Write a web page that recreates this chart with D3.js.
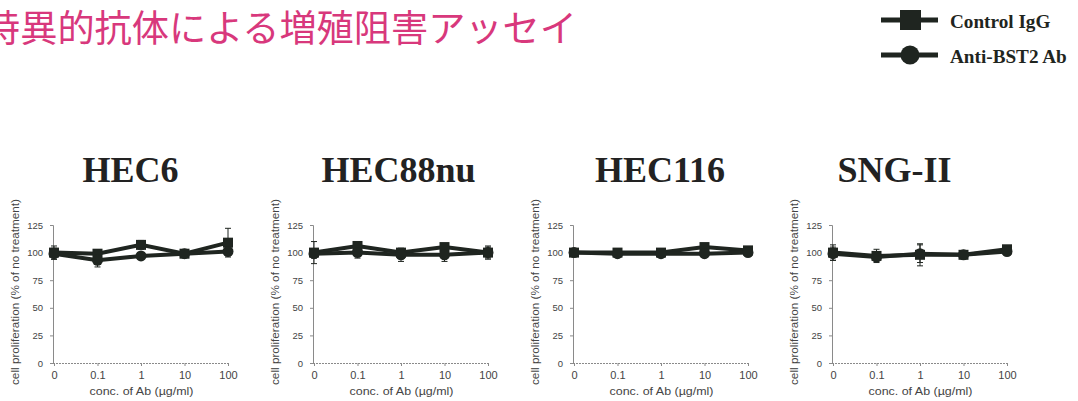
<!DOCTYPE html>
<html>
<head>
<meta charset="utf-8">
<script src="https://cdn.jsdelivr.net/npm/d3@7"></script>
<style>
  html, body { margin: 0; padding: 0; background: #fff; }
  svg { display: block; }
</style>
</head>
<body>
<svg id="chart" width="1078" height="401"></svg>
<script>
// Concentrations of antibody (µg/ml) on the x axis
const categories = ["0", "0.1", "1", "10", "100"];
// Cell lines, one panel each
const cellLines = ["HEC6", "HEC88nu", "HEC116", "SNG-II"];
// Y axis ticks (% of no treatment)
const yTicks = [0, 25, 50, 75, 100, 125];

// Control IgG: mean and SD per concentration, per cell line
const controlIgG = [
  [100, 99, 107, 99, 109],
  [100, 106, 100, 105, 100],
  [100, 100, 100, 105, 102],
  [100, 97, 98, 98, 103]
];
const controlIgGErr = [
  [6, 3, 4, 2, 13],
  [10, 3, 3, 3, 6],
  [2, 2, 2, 2, 2],
  [7, 6, 10, 2, 3]
];
// Anti-BST2 antibody: mean and SD
const antiBST2 = [
  [99, 93, 97, 99, 101],
  [99, 100, 98, 98, 100],
  [100, 99, 99, 99, 100],
  [99, 96, 99, 98, 101]
];
const antiBST2Err = [
  [5, 6, 3, 2, 3],
  [4, 5, 6, 6, 5],
  [2, 2, 2, 2, 2],
  [6, 3, 8, 2, 2]
];

const seriesNames = ["Control IgG", "Anti-BST2 Ab"];

const svg = d3.select("#chart");
const ink = "#1f2520";
const axisGrey = "#8a8a8a";
const labelGrey = "#444";
const sans = "'Liberation Sans', Arial, sans-serif";

// Page heading (runs off the left edge of the slide)
svg.append("text")
  .attr("x", -17).attr("y", 42)
  .attr("font-family", "'Noto Sans CJK JP'")
  .attr("font-size", 37.2)
  .attr("font-weight", 400)
  .attr("fill", "#d8387c")
  .text("特異的抗体による増殖阻害アッセイ");

// Legend
const legend = svg.append("g");
[{ y: 20, shape: "square" }, { y: 55, shape: "circle" }].forEach((row, i) => {
  const g = legend.append("g");
  g.append("line")
    .attr("x1", 881).attr("x2", 938).attr("y1", row.y).attr("y2", row.y)
    .attr("stroke", ink).attr("stroke-width", 5);
  if (row.shape === "square") {
    g.append("rect").attr("x", 900).attr("y", row.y - 10)
      .attr("width", 21).attr("height", 20).attr("fill", ink);
  } else {
    g.append("circle").attr("cx", 910).attr("cy", row.y).attr("r", 9.5).attr("fill", ink);
  }
  g.append("text")
    .attr("x", 950).attr("y", row.y + 8)
    .attr("font-family", "'Liberation Serif', serif")
    .attr("font-weight", "bold")
    .attr("font-size", 19.2)
    .attr("fill", ink)
    .text(seriesNames[i]);
});

// Panel layout
const axisLeft = [53, 313, 573, 832];
const titleX = [130.5, 398.5, 660, 894.5];
const plotW = 175;
const yTop = 225, yBottom = 363;

const y = d3.scaleLinear().domain([0, 125]).range([yBottom, yTop]);

cellLines.forEach((name, p) => {
  const x0 = axisLeft[p];
  const x = d3.scalePoint().domain(categories).range([x0 + 1, x0 + plotW]);
  const g = svg.append("g");

  // Panel title
  g.append("text")
    .attr("x", titleX[p]).attr("y", 181.5)
    .attr("text-anchor", "middle")
    .attr("font-family", "'Liberation Serif', serif")
    .attr("font-weight", "bold")
    .attr("font-size", 36)
    .attr("fill", "#222")
    .text(name);

  // Y axis
  const ya = g.append("g")
    .attr("transform", `translate(${x0},0)`)
    .call(d3.axisLeft(y).tickValues(yTicks).tickSize(3).tickPadding(7));
  ya.select(".domain").attr("stroke", axisGrey).attr("stroke-width", 1);
  ya.selectAll(".tick line").attr("stroke", axisGrey);
  ya.selectAll(".tick text")
    .attr("font-family", sans)
    .attr("font-size", 9.5).attr("fill", labelGrey);

  // X axis
  const xa = g.append("g")
    .attr("transform", `translate(0,${yBottom})`)
    .call(d3.axisBottom(x).tickSize(3).tickSizeOuter(0).tickPadding(5));
  xa.select(".domain")
    .attr("d", `M${x0},0.5H${x0 + plotW}`)
    .attr("stroke", axisGrey).attr("stroke-width", 1)
    .attr("stroke-dasharray", "2,1");
  xa.selectAll(".tick line").attr("stroke", axisGrey);
  xa.selectAll(".tick text")
    .attr("font-family", sans)
    .attr("font-size", 11).attr("fill", labelGrey);

  // Axis titles
  g.append("text")
    .attr("x", x0 + plotW / 2 + 1).attr("y", 395)
    .attr("text-anchor", "middle")
    .attr("font-family", sans)
    .attr("font-size", 10)
    .attr("textLength", 104).attr("lengthAdjust", "spacingAndGlyphs")
    .attr("fill", labelGrey)
    .text("conc. of Ab (µg/ml)");
  g.append("text")
    .attr("transform", `translate(${x0 - 34},292) rotate(-90)`)
    .attr("text-anchor", "middle")
    .attr("font-family", sans)
    .attr("font-size", 10.5)
    .attr("textLength", 186).attr("lengthAdjust", "spacingAndGlyphs")
    .attr("fill", labelGrey)
    .text("cell proliferation (% of no treatment)");

  const series = [
    { vals: controlIgG[p], err: controlIgGErr[p], shape: "square" },
    { vals: antiBST2[p], err: antiBST2Err[p], shape: "circle" }
  ];

  const line = d3.line().x((d, i) => x(categories[i])).y(d => y(d));

  series.forEach(s => {
    // Error bars
    const eb = g.append("g");
    s.vals.forEach((v, i) => {
      const cx = x(categories[i]);
      eb.append("line")
        .attr("x1", cx).attr("x2", cx)
        .attr("y1", y(v - s.err[i])).attr("y2", y(v + s.err[i]))
        .attr("stroke", ink).attr("stroke-width", 1);
      [v - s.err[i], v + s.err[i]].forEach(e => {
        eb.append("line")
          .attr("x1", cx - 3).attr("x2", cx + 3)
          .attr("y1", y(e)).attr("y2", y(e))
          .attr("stroke", ink).attr("stroke-width", 1);
      });
    });
    g.append("path")
      .attr("d", line(s.vals))
      .attr("fill", "none").attr("stroke", ink).attr("stroke-width", 4);
  });

  series.forEach(s => {
    s.vals.forEach((v, i) => {
      const cx = x(categories[i]), cy = y(v);
      if (s.shape === "square") {
        g.append("rect").attr("x", cx - 5).attr("y", cy - 5)
          .attr("width", 10).attr("height", 10).attr("fill", ink);
      } else {
        g.append("circle").attr("cx", cx).attr("cy", cy).attr("r", 5.5).attr("fill", ink);
      }
    });
  });
});
</script>
</body>
</html>
